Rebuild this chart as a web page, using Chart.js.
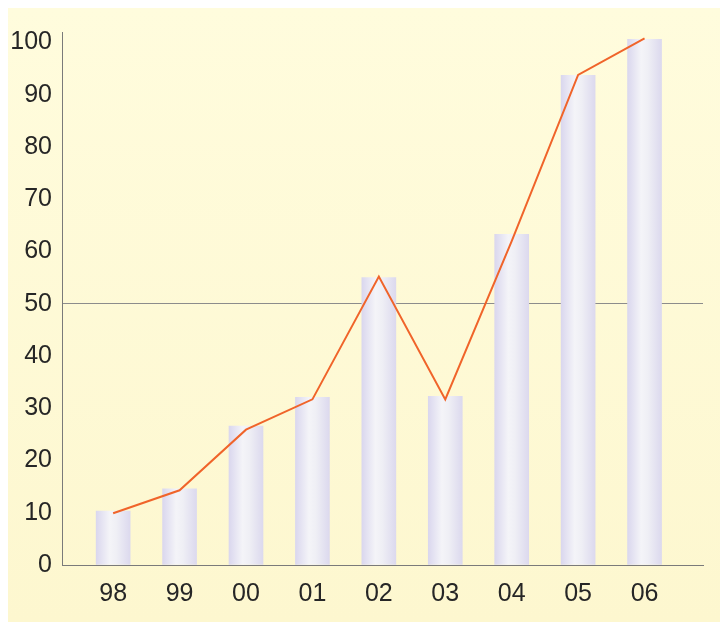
<!DOCTYPE html>
<html>
<head>
<meta charset="utf-8">
<script src="https://cdn.jsdelivr.net/npm/chart.js@4/dist/chart.umd.min.js"></script>
<style>
  html, body { margin: 0; padding: 0; background: #fff; }
  #wrap { position: relative; width: 720px; height: 622px; }
  #panel { position: absolute; left: 8px; top: 8px; right: 0; bottom: 0;
           background: linear-gradient(#fffcdd, #fdf7cf); }
  canvas { position: absolute; left: 0; top: 0; }
</style>
</head>
<body>
<div id="wrap">
  <div id="panel"></div>
  <canvas id="myChart" width="720" height="622"></canvas>
</div>
<script>
// years along the bottom
const years = ['98', '99', '00', '01', '02', '03', '04', '05', '06'];
// bar heights
const barValues = [10.3, 14.6, 26.6, 32.1, 55, 32.3, 63.3, 93.7, 100.6];
// orange line
const lineValues = [9.9, 14.3, 25.9, 31.7, 55.2, 31.7, 62, 93.8, 100.8];
const yTicks = [0, 10, 20, 30, 40, 50, 60, 70, 80, 90, 100];

const ctx = document.getElementById('myChart').getContext('2d');
const labelFont = { family: "'Liberation Sans', Arial, sans-serif", size: 25 };

function barFill(c) {
  const chart = c.chart;
  const xs = chart.scales.x;
  const cx = xs ? xs.getPixelForValue(c.index) : NaN;
  if (!isFinite(cx)) return '#e6e4f2';
  const g = chart.ctx.createLinearGradient(cx - 17, 0, cx + 17, 0);
  g.addColorStop(0, '#dad7ee');
  g.addColorStop(0.4, '#f4f4f8');
  g.addColorStop(0.6, '#efeff5');
  g.addColorStop(1, '#dcd9ee');
  return g;
}

var graphData = {
  data: {
    datasets: [{
      type: 'line',
      data: lineValues.map((v, i) => ({ x: i, y: v })),
      borderColor: '#f0642a',
      borderWidth: 2,
      pointRadius: 0,
      tension: 0,
      order: 0
    }, {
      type: 'bar',
      data: barValues.map((v, i) => ({ x: i, y: v })),
      backgroundColor: barFill,
      borderWidth: 0,
      barThickness: 34,
      order: 1
    }]
  },
  options: {
    responsive: false,
    animation: false,
    layout: { padding: { top: 32, right: 17, left: 0, bottom: 0 } },
    plugins: { legend: { display: false }, tooltip: { enabled: false } },
    scales: {
      x: {
        type: 'linear',
        offset: false,
        min: -0.77,
        max: 8.88,
        afterFit: s => { s.height = 57; },
        afterBuildTicks: s => { s.ticks = years.map((y, i) => ({ value: i })); },
        ticks: {
          callback: v => years[v],
          font: labelFont,
          color: '#262626',
          padding: 14,
          maxRotation: 0,
          autoSkip: false
        },
        grid: { color: 'transparent', drawTicks: false, offset: false },
        border: { color: '#7a7a7a', width: 1 }
      },
      y: {
        min: 0,
        max: 102,
        afterFit: s => { s.width = 62; },
        afterBuildTicks: s => { s.ticks = yTicks.map(v => ({ value: v })); },
        ticks: {
          font: labelFont,
          color: '#262626',
          padding: 10
        },
        grid: {
          drawTicks: false,
          color: c => (c.tick && c.tick.value === 50) ? '#8c8c8c' : 'transparent',
          lineWidth: 1
        },
        border: { color: '#7a7a7a', width: 1 }
      }
    }
  }
};
const myChart = new Chart(ctx, graphData);
</script>
</body>
</html>
